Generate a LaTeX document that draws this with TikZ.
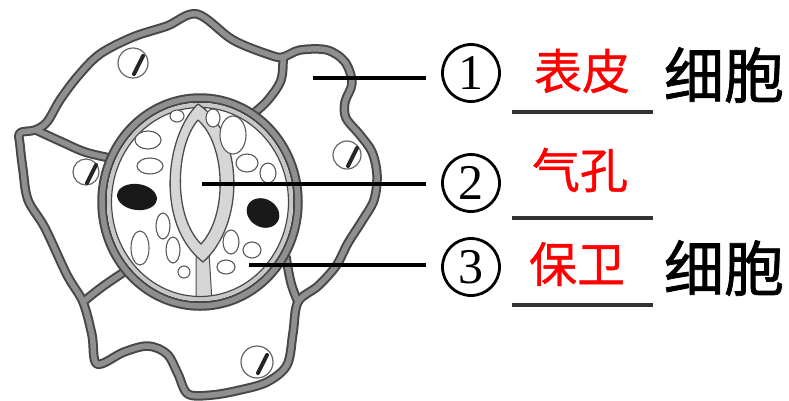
\documentclass[tikz,border=0pt]{standalone}
\usepackage{fontspec}
\usetikzlibrary{calc}
\newfontfamily\cjk{Noto Sans CJK SC}
\newfontfamily\cjkheavy[FakeBold=1.2]{Noto Sans CJK SC}
\newfontfamily\cjkred[FakeBold=0.8]{Noto Sans CJK SC}
\newfontfamily\numfont{Liberation Serif}
\definecolor{walledge}{gray}{0.28}
\definecolor{wallfill}{gray}{0.56}
\definecolor{porefill}{gray}{0.84}
\definecolor{anslabel}{RGB}{255,0,0}
\definecolor{blankline}{gray}{0.2}

% walls of the five epidermal cells around the stoma
\newcommand\epiwalls[1]{%
  \draw[#1] plot[smooth cycle, tension=0.55] coordinates {
    (197,14) (233,40) (270,55) (283,57) (300,50) (327,50) (345,62) (352,83)
    (345,102) (346,118) (360,135) (372,152) (377,175) (374,200) (362,221)
    (348,243) (336,266) (318,286) (298,302) (293,333) (287,365) (267,382)
    (240,390) (212,395) (188,394) (178,374) (167,354) (148,346) (124,352)
    (97,364) (92,335) (83,302) (67,275) (45,228) (28,200) (23,170) (20,145)
    (20,133) (35,130) (47,122) (60,100) (78,76) (100,54) (133,37) (167,26)};
  \draw[#1] plot[smooth, tension=0.6] coordinates {(38,131) (62,142) (85,152) (110,158)};
  \draw[#1] plot[smooth, tension=0.6] coordinates {(283,57) (281,80) (268,100) (254,113)};
  \draw[#1] plot[smooth, tension=0.6] coordinates {(298,302) (291,283) (286,257)};
  \draw[#1] plot[smooth, tension=0.6] coordinates {(83,302) (102,287) (124,272)};
}

\begin{document}
\begin{tikzpicture}[x=1pt,y=-1pt,
  wallout/.style={draw=walledge,line width=9.5pt,line join=round,line cap=round},
  wallin/.style={draw=wallfill,line width=5.5pt,line join=round,line cap=round},
  plastid/.style={draw=black!65,line width=1.1pt,fill=white},
  nucleusdark/.style={fill=black!90},
  cellnuc/.style={draw=black!60,line width=1.2pt,fill=white},
  nucmark/.style={line width=4pt,line cap=round,draw=black!85},
  leader/.style={line width=3.2pt,draw=black},
  numring/.style={circle,draw=black,line width=2.8pt,minimum size=57pt,inner sep=0pt,
                  font=\numfont\fontsize{50}{50}\selectfont},
  answer/.style={text=anslabel,inner sep=0pt,font=\cjkred\fontsize{48}{48}\selectfont},
  unitword/.style={text=black,inner sep=0pt,font=\cjkheavy\fontsize{60}{60}\selectfont},
  blank/.style={line width=4pt,draw=blankline}]

\useasboundingbox (0,0) rectangle (789,400);
\fill[white] (0,0) rectangle (789,400);

% epidermal cell walls
\epiwalls{wallout}
\epiwalls{wallin}

% thickened wall strips between the guard cells
\filldraw[fill=porefill,draw=black!70,line width=1pt]
  (193,96) -- (207,96) -- (204,114) -- (194,114) -- cycle;
\filldraw[fill=porefill,draw=black!70,line width=1pt]
  (196,252) -- (209,252) -- (212,302) -- (196,302) -- cycle;

% outer wall of the guard cell pair
\draw[wallout] (200,202) ellipse [x radius=98pt, y radius=104pt];
\draw[wallin] (200,202) ellipse [x radius=98pt, y radius=104pt];
\draw[line width=4pt,draw=black!22] (200,202) ellipse [x radius=91pt, y radius=97pt];
\draw[line width=1.2pt,draw=walledge] (200,202) ellipse [x radius=88.5pt, y radius=94.5pt];

% stoma pore
\filldraw[fill=porefill,draw=black!70,line width=1.3pt]
  (198,104) .. controls (165,135) and (155,225) .. (203,262)
            .. controls (245,225) and (245,135) .. (198,104);
\filldraw[fill=white,draw=black!70,line width=1.3pt]
  (198,120) .. controls (176,145) and (172,215) .. (201,244)
            .. controls (228,215) and (226,145) .. (198,120);

% chloroplasts of the guard cells
\foreach \cx/\cy/\rx/\ry in {177/116/7/6, 148/140/13/9, 150/166/13/8,
    163/226/7/13, 140/248/9/17, 173/250/7/13, 184/272/6/6,
    213/118/7/9, 233/135/13/19, 247/163/11/9, 268/173/8/10,
    231/242/8/12, 252/250/9/8, 226/267/9/7}
  \draw[plastid] (\cx,\cy) ellipse [x radius=\rx pt, y radius=\ry pt];

% guard cell nuclei
\fill[nucleusdark,rotate around={-8:(137,197)}] (137,197) ellipse [x radius=20pt, y radius=13pt];
\fill[nucleusdark,rotate around={-30:(263,213)}] (263,213) ellipse [x radius=17pt, y radius=14pt];

% nuclei of the epidermal cells
\foreach \cx/\cy/\r in {133/63/15, 86/172/13, 347/155/14, 257/362/16}{
  \draw[cellnuc] (\cx,\cy) circle [radius=\r pt];
  \draw[nucmark] ($(\cx,\cy)+(1,11)$) -- ($(\cx,\cy)+(10,-7)$);
}

% number labels and their leader lines
\node[numring] (c1) at (471,73) {1};
\node[numring] (c2) at (471,183) {2};
\node[numring] (c3) at (471,267) {3};

\coordinate (t1) at (313,78);
\coordinate (t2) at (202,184);
\coordinate (t3) at (249,265);
\draw[leader,shorten >=15pt] (t1) -- (t1 -| c1.west);
\draw[leader,shorten >=15pt] (t2) -- (t2 -| c2.west);
\draw[leader,shorten >=15pt] (t3) -- (t3 -| c3.west);

% filled-in answers
\node[answer] (a1) at (582,71) {表皮};
\node[answer] (a2) at (580,170) {气孔};
\node[answer] (a3) at (577,264) {保卫};

% answer blanks
\coordinate (u1l) at (512,112); \coordinate (u1r) at (653,112);
\coordinate (u2l) at (512,218); \coordinate (u2r) at (653,218);
\coordinate (u3l) at (512,305); \coordinate (u3r) at (653,305);
\draw[blank] (u1l) -- (u1r);
\draw[blank] (u2l) -- (u2r);
\draw[blank] (u3l) -- (u3r);

\node[unitword] (w1) at (724,75) {细胞};
\node[unitword] (w3) at (724,268) {细胞};
\end{tikzpicture}
\end{document}
